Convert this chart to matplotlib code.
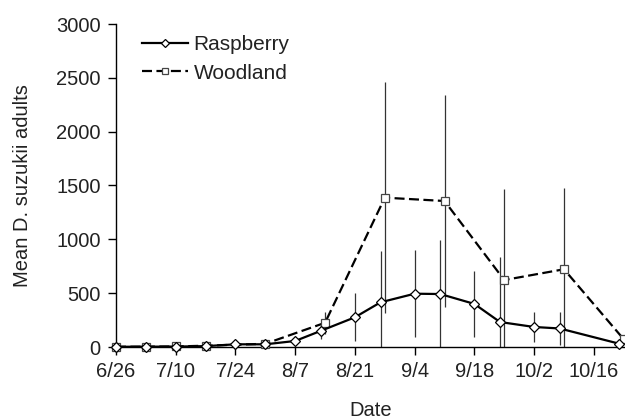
import matplotlib
matplotlib.use('Agg')
import matplotlib.pyplot as plt
import numpy as np

# days since 6/26
rasp_day = [0, 7, 14, 21, 28, 35, 42, 48, 56, 62, 70, 76, 84, 90, 98, 104, 118]
rasp_mean = [2, 3, 4, 8, 25, 25, 56, 150, 276, 415, 495, 492, 400, 232, 186, 172, 30]
rasp_err = [0, 0, 0, 3, 10, 10, 20, 75, 222, 480, 405, 500, 305, 600, 135, 155, 0]

wood_day = [0, 7, 14, 21, 35, 49, 63, 77, 91, 105, 119]
wood_mean = [2, 3, 5, 12, 30, 225, 1387, 1356, 622, 722, 72]
wood_err = [0, 0, 0, 3, 8, 100, 1075, 985, 846, 758, 0]

tick_days = [0, 14, 28, 42, 56, 70, 84, 98, 112]
tick_labels = ['6/26', '7/10', '7/24', '8/7', '8/21', '9/4', '9/18', '10/2', '10/16']

plt.rcParams['font.family'] = ['Liberation Sans', 'DejaVu Sans']
txt = '#222222'
fs = 14.5

fig = plt.figure(figsize=(6.25, 4.19), dpi=100)
ax = fig.add_axes([116 / 625, 72 / 419, 509 / 625, 323 / 419])

ax.errorbar(rasp_day, rasp_mean, yerr=rasp_err, fmt='none', ecolor='#333333',
            elinewidth=0.9, capsize=0, zorder=1)
ax.errorbar(wood_day, wood_mean, yerr=wood_err, fmt='none', ecolor='#333333',
            elinewidth=0.9, capsize=0, zorder=1)

ax.plot(wood_day, wood_mean, linestyle=(0, (4.5, 2)), color='black', linewidth=1.6,
        marker='s', markersize=5.5, markerfacecolor='white', markeredgecolor='#444444',
        markeredgewidth=0.9, label='Woodland', zorder=3, clip_on=False)
ax.plot(rasp_day, rasp_mean, linestyle='-', color='black', linewidth=1.6,
        marker='D', markersize=5.2, markerfacecolor='white', markeredgecolor='black',
        markeredgewidth=0.9, label='Raspberry', zorder=4, clip_on=False)

ax.set_xlim(0, 119.3)
ax.set_ylim(0, 3000)
ax.set_yticks(np.arange(0, 3001, 500))
ax.set_xticks(tick_days)
ax.set_xticklabels(tick_labels)

for s in ['top', 'right']:
    ax.spines[s].set_visible(False)
for s in ['left', 'bottom']:
    ax.spines[s].set_linewidth(1.0)
ax.tick_params(axis='both', direction='out', length=6, width=1.0, pad=5,
               labelsize=fs, labelcolor=txt)

ax.set_xlabel('Date', fontsize=fs, color=txt)
ax.set_ylabel('Mean D. suzukii adults', fontsize=fs, color=txt)
ax.xaxis.set_label_coords(0.5, -0.168)
ax.yaxis.set_label_coords(-0.165, 0.5)

h, l = ax.get_legend_handles_labels()
ax.legend(h[::-1], l[::-1], loc='upper left', bbox_to_anchor=(0.052, 0.965),
          frameon=False, fontsize=15, handlelength=2.2, handletextpad=0.25,
          labelspacing=0.45, borderpad=0, borderaxespad=0, labelcolor=txt,
          markerscale=0.8)

fig.savefig('out.png', dpi=100)
